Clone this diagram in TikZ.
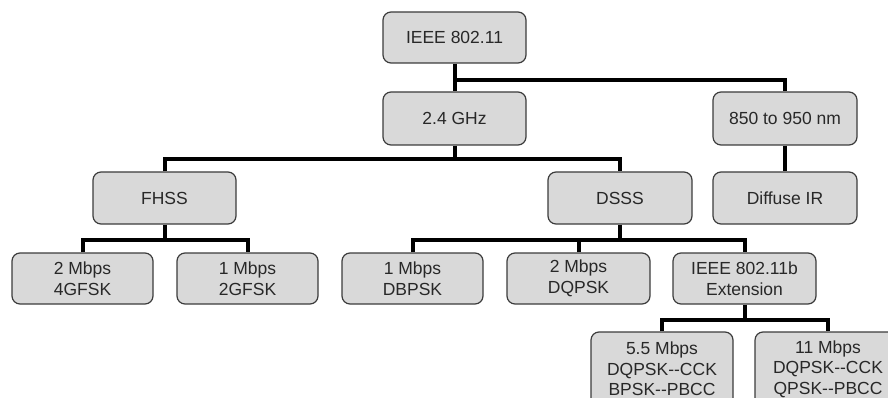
\documentclass[tikz,border=0pt]{standalone}
\usepackage{fontspec}
\setmainfont{Liberation Sans}
\definecolor{boxfill}{RGB}{217,217,217}
\definecolor{boxline}{RGB}{60,60,60}
\definecolor{txt}{RGB}{40,40,40}
\tikzset{
  box/.style={draw=boxline, line width=1.2pt, fill=boxfill, rounded corners=8pt,
    inner sep=0pt, align=center, text=txt,
    font=\fontsize{17.5}{20.5}\selectfont},
  conn/.style={line width=4pt, draw=black, line join=miter}
}
\begin{document}
\begin{tikzpicture}[x=1pt,y=-1pt]
\useasboundingbox (0,0) rectangle (888,398);
\clip (0,0) rectangle (888,398);
% bus levels
\coordinate (bus0) at (0,80);
\coordinate (bus1) at (0,159);
\coordinate (bus2) at (0,240);
\coordinate (bus3) at (0,320);
% level 0
\node[box, minimum width=143pt, minimum height=51pt] (ieee) at (454.5,37.5) {IEEE 802.11};
% level 1
\node[box, minimum width=143pt, minimum height=53pt] (ghz) at (454.5,118.5) {2.4 GHz};
\node[box, minimum width=144pt, minimum height=53pt] (nm) at (785,118.5) {850 to 950 nm};
% level 2
\node[box, minimum width=143pt, minimum height=52pt] (fhss) at (164.5,198) {FHSS};
\node[box, minimum width=144pt, minimum height=52pt] (dsss) at (620,198) {DSSS};
\node[box, minimum width=144pt, minimum height=52pt] (ir) at (785,198) {Diffuse IR};
% level 3
\node[box, minimum width=141pt, minimum height=51pt] (m2) at (82.5,278.5) {2 Mbps\\4GFSK};
\node[box, minimum width=141pt, minimum height=51pt] (m1) at (247.5,278.5) {1 Mbps\\2GFSK};
\node[box, minimum width=141pt, minimum height=51pt] (dbpsk) at (412.5,278.5) {1 Mbps\\DBPSK};
\node[box, minimum width=143pt, minimum height=51pt] (dqpsk) at (578.5,278.5) {2 Mbps\\DQPSK};
\node[box, minimum width=143pt, minimum height=51pt] (ext) at (744.5,278.5) {IEEE 802.11b\\Extension};
% level 4
\node[box, minimum width=142pt, minimum height=74pt] (f55) at (662,369) {5.5 Mbps\\DQPSK-{}-CCK\\BPSK-{}-PBCC};
\node[box, minimum width=146pt, minimum height=74pt] (f11) at (828,369) {11 Mbps\\DQPSK-{}-CCK\\QPSK-{}-PBCC};
% connectors
\draw[conn] (ieee.south) -- (ghz.north);
\draw[conn] (ieee.south |- bus0) -| (nm.north);
\draw[conn] (ghz.south) -- (ghz.south |- bus1);
\draw[conn] (fhss.north) |- (dsss.north |- bus1) -- (dsss.north);
\draw[conn] (nm.south) -- (ir.north);
\draw[conn] (fhss.south) -- (fhss.south |- bus2);
\draw[conn] (m2.north) |- (m1.north |- bus2) -- (m1.north);
\draw[conn] (dsss.south) -- (dsss.south |- bus2);
\draw[conn] (dbpsk.north) |- (ext.north |- bus2) -- (ext.north);
\draw[conn] (dqpsk.north) -- (dqpsk.north |- bus2);
\draw[conn] (ext.south) -- (ext.south |- bus3);
\draw[conn] (f55.north) |- (f11.north |- bus3) -- (f11.north);
\end{tikzpicture}
\end{document}
